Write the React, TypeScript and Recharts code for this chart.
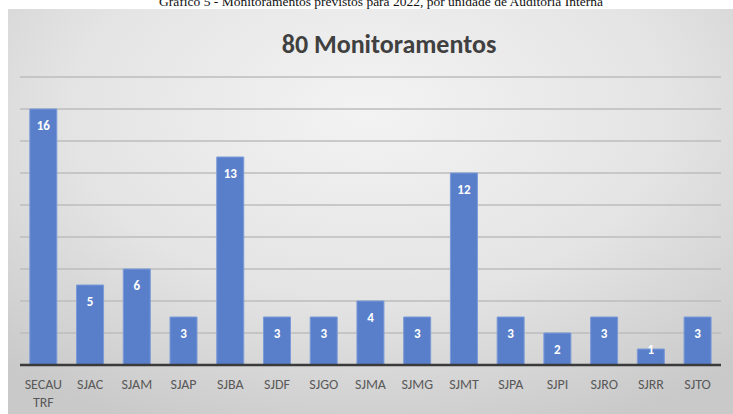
import React from "react";
import { BarChart, Bar, XAxis, YAxis, CartesianGrid, LabelList } from "recharts";

const units = ["SECAU TRF", "SJAC", "SJAM", "SJAP", "SJBA", "SJDF", "SJGO", "SJMA", "SJMG", "SJMT", "SJPA", "SJPI", "SJRO", "SJRR", "SJTO"];
const counts = [16, 5, 6, 3, 13, 3, 3, 4, 3, 12, 3, 2, 3, 1, 3];
const yTicks = [0, 2, 4, 6, 8, 10, 12, 14, 16, 18];

const data = units.map((u, i) => ({ unit: u, value: counts[i] }));

const font = "Carlito, 'Open Sans', 'Liberation Sans', sans-serif";

function UnitTick(props: any) {
  const { x, y, payload } = props;
  const lines = String(payload.value).split(" ");
  return (
    <text x={x} y={y + 16} textAnchor="middle" fill="#595959" fontSize={14} fontFamily={font}>
      {lines.map((l: string, i: number) => (
        <tspan key={i} x={x} dy={i === 0 ? 0 : 18}>
          {l}
        </tspan>
      ))}
    </text>
  );
}

// value label inside the bar end; short bars push it up like Excel does
function ValueLabel(props: any) {
  const { x, y, width, height, value } = props;
  const cy = height < 24 ? y : y + 16;
  return (
    <text
      x={x + width / 2}
      y={cy}
      dy="0.35em"
      textAnchor="middle"
      fill="#ffffff"
      fontSize={13}
      fontWeight={700}
      fontFamily={font}
    >
      {value}
    </text>
  );
}

export default function App() {
  return (
    <div style={{ position: "absolute", left: 0, top: 0, width: 733, height: 414, overflow: "hidden", background: "#fff" }}>
      <div
        style={{
          position: "absolute",
          top: -6,
          left: 0,
          width: 762,
          textAlign: "center",
          fontFamily: "'Liberation Serif', 'Times New Roman', serif",
          fontSize: 13.5,
          lineHeight: "15px",
          color: "#111",
          whiteSpace: "nowrap",
        }}
      >
        Gráfico 5 - Monitoramentos previstos para 2022, por unidade de Auditoria Interna
      </div>
      <div
        style={{
          position: "absolute",
          left: 8,
          top: 9,
          width: 725,
          height: 405,
          background: "radial-gradient(ellipse 75% 85% at 50% 25%, #f3f3f3 0%, #e4e4e4 55%, #c9c9c9 100%)",
        }}
      >
        <div
          style={{
            position: "absolute",
            top: 19,
            left: 0,
            width: 762,
            textAlign: "center",
            fontFamily: font,
            fontWeight: 700,
            fontSize: 26,
            lineHeight: "32px",
            color: "#404040",
          }}
        >
          80 Monitoramentos
        </div>
        <BarChart
          width={725}
          height={405}
          data={data}
          margin={{ top: 68, right: 12, left: 12, bottom: 0 }}
          barCategoryGap="21%"
        >
          <CartesianGrid vertical={false} stroke="#bcbcbc" strokeWidth={1.5} />
          <XAxis
            dataKey="unit"
            interval={0}
            tickLine={false}
            axisLine={{ stroke: "#3a3a3a", strokeWidth: 2.5 }}
            tick={<UnitTick />}
            height={49}
          />
          <YAxis hide domain={[0, 18]} ticks={yTicks} />
          <Bar dataKey="value" fill="#5a7fca" stroke="#7b9ad8" strokeWidth={1} isAnimationActive={false}>
            <LabelList dataKey="value" content={<ValueLabel />} />
          </Bar>
        </BarChart>
      </div>
    </div>
  );
}
